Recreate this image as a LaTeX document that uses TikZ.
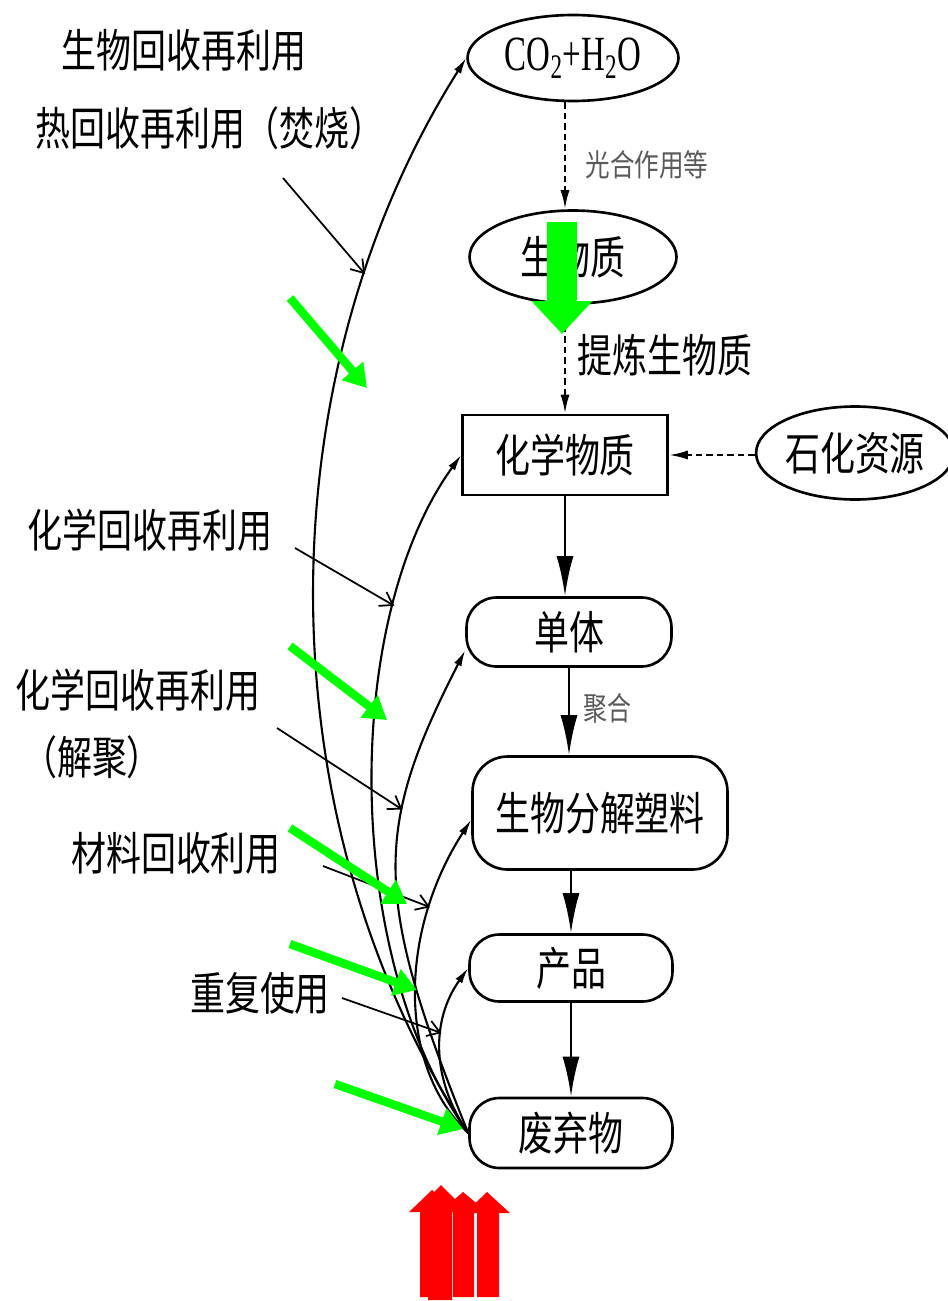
\documentclass[tikz,border=0pt]{standalone}
\usepackage{fontspec}
\usepackage{graphicx}
\newfontfamily\cjk{Noto Sans CJK SC}
\newfontfamily\tms{Liberation Serif}
\usetikzlibrary{shapes.geometric,arrows.meta}
\newcommand\tall[1]{\scalebox{1}[1.3]{#1}}
\definecolor{grn}{RGB}{0,255,0}
\definecolor{rd}{RGB}{255,0,0}
\definecolor{gry}{RGB}{90,90,90}
\begin{document}
\begin{tikzpicture}[x=0.02cm,y=-0.02cm,
  box/.style={draw,line width=1.5pt,inner sep=0,font=\cjk\fontsize{19.9}{24}\selectfont},
  ell/.style={box,ellipse},
  rnd/.style={box,rounded corners=0.6cm},
  lbl/.style={inner sep=0,font=\cjk\fontsize{19.9}{24}\selectfont},
  small/.style={inner sep=0,text=gry,font=\cjk\fontsize{14}{18}\selectfont},
  mainarr/.style={line width=1.5pt,-{Latex[length=0.8cm,width=0.34cm]}},
  dsh/.style={line width=1.3pt,dash pattern=on 0.13cm off 0.08cm,-{Latex[length=0.38cm,width=0.18cm]}},
  cv/.style={line width=1.2pt,-{Latex[length=0.32cm,width=0.16cm]}},
  la/.style={line width=1pt,-{Straight Barb[length=0.24cm,width=0.32cm]}},
  ga/.style={draw=grn,line width=0.17cm,-{Triangle[length=0.45cm,width=0.54cm]}},
  redarrow/.style={fill=rd,draw=none}
]
\fill[white] (0,0) rectangle (947,1301);
\useasboundingbox (0,0) rectangle (947,1301);

% main nodes
\node[ell,minimum width=4.22cm,minimum height=1.72cm] (co2) at (573,58)
  {\tms\fontsize{28}{30}\selectfont\scalebox{0.67}[1]{CO\textsubscript{2}+H\textsubscript{2}O}};
\node[ell,minimum width=4.14cm,minimum height=1.86cm] (bio) at (573,257) {\tall{生物质}};
\node[box,minimum width=4.1cm,minimum height=1.6cm] (chem) at (565,455) {\tall{化学物质}};
\node[ell,minimum width=3.9cm,minimum height=1.86cm] (petro) at (855,453) {\tall{石化资源}};
\node[rnd,minimum width=4.1cm,minimum height=1.38cm] (mono) at (569,632) {\tall{单体}};
\node[rnd,rounded corners=0.7cm,minimum width=5.1cm,minimum height=2.26cm] (bdp) at (600,813) {\tall{生物分解塑料}};
\node[rnd,minimum width=4.06cm,minimum height=1.34cm] (prod) at (571,968) {\tall{产品}};
\node[rnd,minimum width=4.06cm,minimum height=1.4cm] (waste) at (571,1133) {\tall{废弃物}};

% edge labels
\node[small] (lg) at (647,165) {\scalebox{1}[1.25]{光合作用等}};
\node[lbl] (lt) at (665,355) {\tall{提炼生物质}};
\node[small,font=\cjk\fontsize{13.6}{16}\selectfont] (lj) at (607,708) {\scalebox{1}[1.35]{聚合}};

% left labels
\node[lbl] (l1) at (184,50) {\tall{生物回收再利用}};
\node[lbl] (l2) at (210,128) {\tall{热回收再利用（焚烧）}};
\node[lbl] (l3) at (150,530) {\tall{化学回收再利用}};
\node[lbl] (l4) at (138,690) {\tall{化学回收再利用}};
\node[lbl] (l5) at (92,757) {\tall{（解聚）}};
\node[lbl] (l6) at (176,853) {\tall{材料回收利用}};
\node[lbl] (l7) at (260,993) {\tall{重复使用}};

% dashed arrows
\draw[dsh] (co2.south -| chem.north) -- (bio.north -| chem.north);
\draw[dsh] (bio.south -| chem.north) -- (chem.north);
\draw[dsh] (petro.west |- chem.east) -- (chem.east);

% main arrows
\draw[mainarr] (chem.south) -- (chem.south |- mono.north);
\draw[mainarr] (mono.south) -- (mono.south |- bdp.north);
\draw[mainarr] (prod.north |- bdp.south) -- (prod.north);
\draw[mainarr] (prod.south) -- (prod.south |- waste.north);

% recycling curves
\draw[cv] (waste.west) .. controls (263,820) and (263,380) .. (co2.west) coordinate[pos=0.79] (h1);
\draw[cv] (waste.west) .. controls (342,957) and (342,620) .. (chem.west) coordinate[pos=0.75] (h2);
\draw[cv] (waste.west) .. controls (373,897) and (373,830) .. (mono.190) coordinate[pos=0.65] (h3);
\draw[cv] (waste.west) .. controls (398,1067) and (398,933) .. (bdp.183) coordinate[pos=0.75] (h4);
\draw[cv] (waste.west) .. controls (431,1079) and (431,1020) .. (prod.west) coordinate[pos=0.6] (h5);

% label pointers
\coordinate (a1) at (283,178);
\coordinate (a2) at (295,548);
\coordinate (a3) at (277,728);
\coordinate (a4) at (323,866);
\coordinate (a5) at (342,998);
\draw[la] (a1) -- (h1);
\draw[la] (a2) -- (h2);
\draw[la] (a3) -- (h3);
\draw[la] (a4) -- (h4);
\draw[la] (a5) -- (h5);

% green overlay arrows
\coordinate (gs) at (562,222);
\coordinate (gt) at (562,334);
\draw[draw=grn,line width=0.6cm,-{Triangle[length=0.66cm,width=1.18cm]}] (gs) -- (gt);
\coordinate (g1s) at (290,298); \coordinate (g1t) at (367,388);
\coordinate (g2s) at (290,646); \coordinate (g2t) at (387,720);
\coordinate (g3s) at (290,828); \coordinate (g3t) at (407,904);
\coordinate (g4s) at (290,944); \coordinate (g4t) at (417,990);
\coordinate (g5s) at (335,1084); \coordinate (g5t) at (463,1129);
\draw[ga] (g1s) -- (g1t);
\draw[ga] (g2s) -- (g2t);
\draw[ga] (g3s) -- (g3t);
\draw[ga] (g4s) -- (g4t);
\draw[ga] (g5s) -- (g5t);

% red overlay arrows
\fill[redarrow] (420,1297) -- (420,1212) -- (409,1212) -- (432,1190) -- (455,1212) -- (452,1212) -- (452,1297) -- cycle;
\fill[redarrow] (428,1300) -- (428,1208) -- (418,1208) -- (441,1185) -- (464,1208) -- (452,1208) -- (452,1300) -- cycle;
\fill[redarrow] (453,1297) -- (453,1212) -- (440,1212) -- (463,1192) -- (487,1212) -- (474,1212) -- (474,1297) -- cycle;
\fill[redarrow] (477,1297) -- (477,1213) -- (465,1213) -- (487,1192) -- (510,1213) -- (499,1213) -- (499,1297) -- cycle;
\end{tikzpicture}
\end{document}
